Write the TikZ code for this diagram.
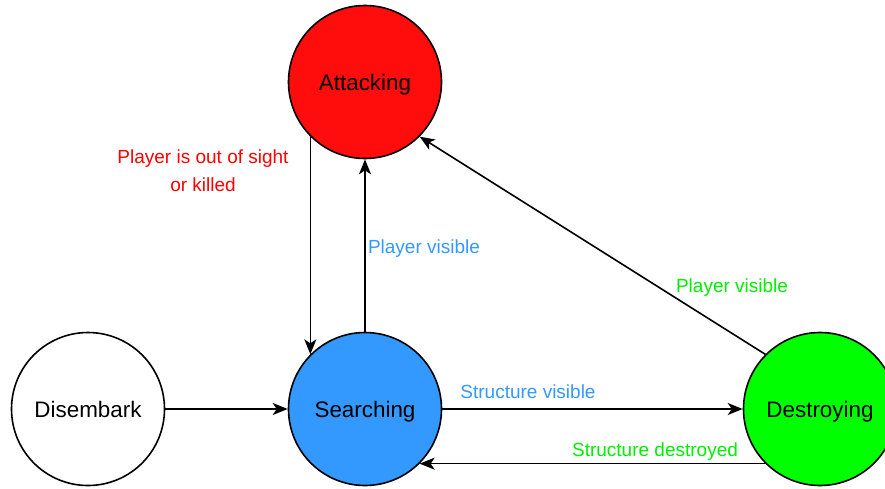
\documentclass[tikz,border=0pt]{standalone}
\usepackage{fontspec}
\setmainfont{Liberation Sans}
\usetikzlibrary{arrows.meta}
\definecolor{attackfill}{HTML}{FF0D0D}
\definecolor{searchfill}{HTML}{3399FF}
\definecolor{destroyfill}{HTML}{00FF00}
\definecolor{redtext}{HTML}{FF0000}
\definecolor{bluetext}{HTML}{3399FF}
\definecolor{greentext}{HTML}{00EE00}
\begin{document}
\begin{tikzpicture}[x=1pt,y=-1pt,
  state/.style={circle, draw=black, line width=1.6pt, minimum size=153pt,
    inner sep=0pt, text height=16pt, text depth=0pt,
    font=\fontsize{22.4}{26}\selectfont},
  edge/.style={line width=1.6pt, -{Stealth[length=15pt,width=12pt,inset=4pt]}},
  lbl/.style={font=\fontsize{19}{28}\selectfont, inner sep=0pt, align=center}]
\useasboundingbox (0,0) rectangle (885,488);

% states
\node[state, fill=attackfill]  (att) at (365,82)  {Attacking};
\node[state, fill=searchfill]  (sea) at (365,409) {Searching};
\node[state, fill=white]       (dis) at (88,409)  {Disembark};
\node[state, fill=destroyfill] (des) at (820,409) {Destroying};

% transitions
\draw[edge] (att.225) -- (sea.135);
\draw[edge] (sea.north) -- (att.south);
\draw[edge] (des.135) -- (att.-45);
\draw[edge] (dis.east) -- (sea.west);
\draw[edge] (sea.east) -- (des.west);
\draw[edge] (des.225) -- (sea.-45);

% transition labels
\node[lbl, text=redtext]   (l1) at (203,171) {Player is out of sight\\or killed};
\node[lbl, text=bluetext]  (l2) at (424,248.5) {Player visible};
\node[lbl, text=greentext] (l3) at (732,287.5) {Player visible};
\node[lbl, text=bluetext]  (l4) at (528,391.5) {Structure visible};
\node[lbl, text=greentext] (l5) at (655,451.5) {Structure destroyed};
\end{tikzpicture}
\end{document}
